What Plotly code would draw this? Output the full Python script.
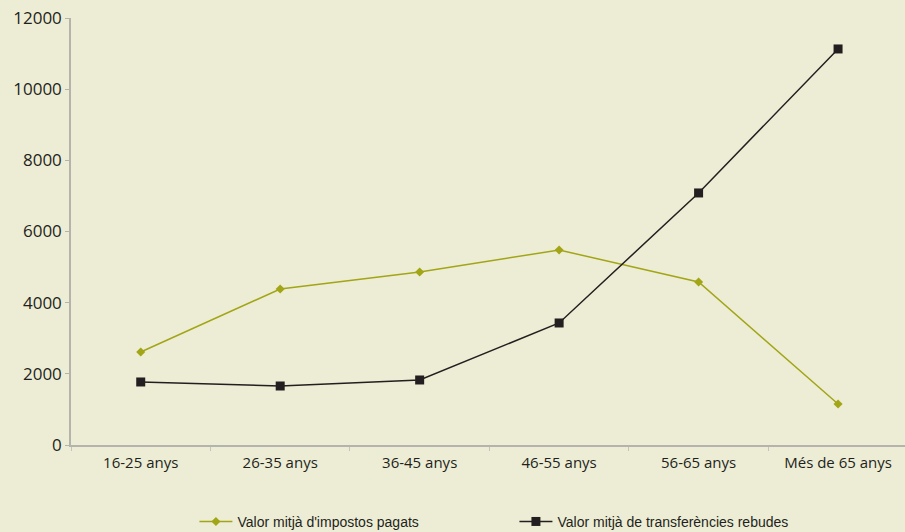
import plotly.graph_objects as go

categories = ["16-25 anys", "26-35 anys", "36-45 anys", "46-55 anys", "56-65 anys", "Més de 65 anys"]
impostos = [2614, 4384, 4862, 5480, 4581, 1152]
transferencies = [1771, 1658, 1827, 3429, 7083, 11130]
name_impostos = "Valor mitjà d'impostos pagats"
name_transf = "Valor mitjà de transferències rebudes"
y_ticks = [0, 2000, 4000, 6000, 8000, 10000, 12000]
y_tick_labels = ["0", "2000", "4000", "6000", "8000", "10000", "12000"]

BG = "#EDEDD5"
GREEN = "#A2A516"
DARK = "#231F20"

fig = go.Figure()
fig.add_trace(go.Scatter(
    x=categories, y=impostos, name=name_impostos, mode="lines+markers",
    line=dict(color=GREEN, width=1.5),
    marker=dict(symbol="diamond", size=7, color=GREEN),
))
fig.add_trace(go.Scatter(
    x=categories, y=transferencies, name=name_transf, mode="lines+markers",
    line=dict(color=DARK, width=1.5),
    marker=dict(symbol="square", size=9, color=DARK),
))

fig.update_layout(
    width=905, height=532,
    paper_bgcolor=BG, plot_bgcolor=BG,
    margin=dict(l=71, r=0, t=18, b=87, autoexpand=False),
    font=dict(family="Open Sans", color="#231F20"),
    showlegend=True,
    legend=dict(
        orientation="h", x=0.148, xanchor="left", y=-0.18, yanchor="middle",
        font=dict(family="Liberation Sans", size=14, color="#231F20"),
        bgcolor="rgba(0,0,0,0)", entrywidth=272, entrywidthmode="pixels",
        itemwidth=33,
    ),
    xaxis=dict(
        type="category", range=[-0.5, 5.48], automargin=False,
        showline=True, linecolor="#B4B4AC", linewidth=1.5,
        ticks="outside", tickson="boundaries", ticklen=4, tickcolor="#C4C4BC",
        showgrid=False, zeroline=False, ticklabelstandoff=3,
        tickfont=dict(family="Open Sans", size=15, color="#231F20"),
    ),
    yaxis=dict(
        range=[0, 12000], tickvals=y_ticks, ticktext=y_tick_labels, automargin=False,
        showline=True, linecolor="#B4B4AC", linewidth=1.5,
        ticks="outside", ticklen=4, tickcolor="#B4B4AC",
        showgrid=False, zeroline=False,
        tickfont=dict(family="Open Sans", size=17, color="#231F20"),
    ),
)

fig.write_html(
    "out.html",
    config={"displayModeBar": False},
    post_script="document.body.style.margin='0';document.body.style.background='#EDEDD5';",
)
